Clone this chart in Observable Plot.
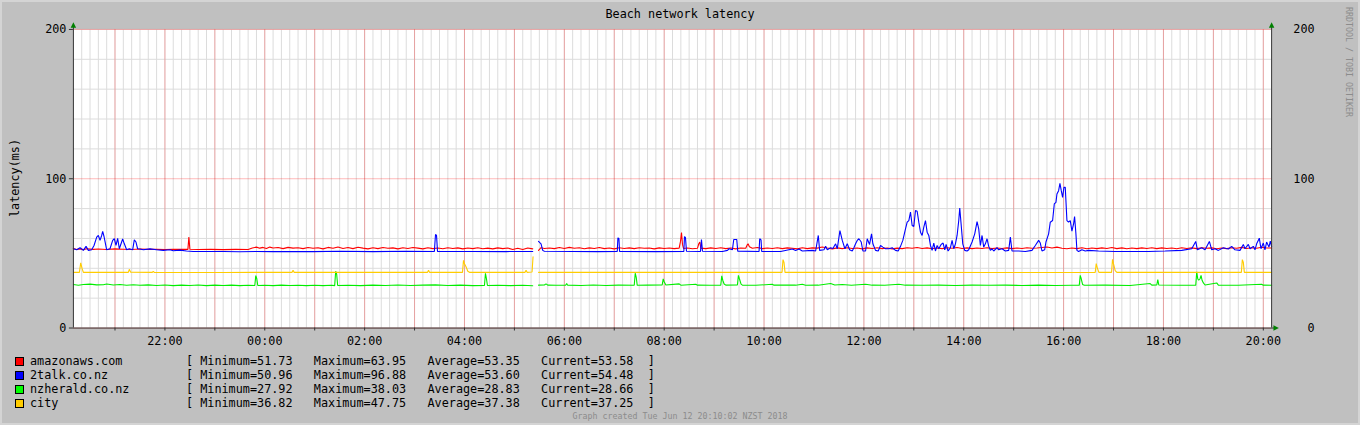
<!DOCTYPE html>
<html>
<head>
<meta charset="utf-8">
<script src="https://cdn.jsdelivr.net/npm/d3@7"></script>
<script src="https://cdn.jsdelivr.net/npm/@observablehq/plot@0.6"></script>
<style>
  html, body { margin: 0; padding: 0; background: #c0c0c0; }
  #wrap { position: relative; width: 1360px; height: 425px; background: #c0c0c0; overflow: hidden;
          font-family: "DejaVu Sans Mono", monospace; font-size: 11.8px; color: #000;
          box-sizing: border-box; border: 2px solid #d4d4d4; }
  .abs { position: absolute; white-space: pre; line-height: 14px; }
  .sw { position: absolute; width: 7px; height: 7px; border: 1px solid #000; }
</style>
</head>
<body>
<div id="wrap"></div>
<script>
// ---------- data (minutes after 20:10 on Mon 11 Jun 2018, latency in ms) ----------
const startUTC = Date.UTC(2018, 5, 11, 20, 10);
const spanMinutes = 1440;

const seriesNames = ["amazonaws.com", "2talk.co.nz", "nzherald.co.nz", "city"];
const seriesColors = ["#ff0000", "#0000ff", "#00ee00", "#ffcc00"];
const minimums = [51.73, 50.96, 27.92, 36.82];
const maximums = [63.95, 96.88, 38.03, 47.75];
const averages = [53.35, 53.60, 28.83, 37.38];
const currents = [53.58, 54.48, 28.66, 37.25];

const yTicksMajor = [0, 100, 200];
const yTicksMinor = [20, 40, 60, 80, 120, 140, 160, 180];

const amazonaws = [
[0,53.2],[4,52.6],[8,53.0],[12,52.5],[16,53.1],[24,52.7],[30,52.9],[40,52.6],[50,53.0],[60,52.8],[70,52.6],[80,52.9],[90,52.7],[100,52.8],[110,52.6],[120,52.8],[130,52.7],[137.6,52.7],[138.8,61.0],[140,52.8],
[150,52.6],[165,52.7],[180,52.5],[195,52.7],[210,52.6],[215,53.6],[220,54.2],[224,53.5],[228,54.0],[232,53.3],[236,54.2],[240,53.6],[246,53.9],[252,53.2],[258,54.0],[264,53.5],[270,53.8],[276,53.2],[282,53.9],[288,53.4],
[294,53.8],[300,53.0],[306,54.0],[312,53.4],[318,54.3],[324,53.3],[330,53.9],[336,53.2],[342,54.1],[348,53.5],[354,53.0],[360,53.8],[366,53.2],[372,53.9],[378,53.4],[384,53.7],[390,53.0],[396,53.8],[402,53.3],[408,53.9],[414,53.5],[420,53.0],[426,53.8],[432,53.2],[438,53.6],[444,53.1],[450,53.8],[456,53.3],[462,53.7],[468,53.0],[474,53.6],[480,53.2],[486,53.8],[492,53.1],[498,53.5],[504,53.0],[510,53.7],[516,53.2],[522,53.6],[528,52.6],[534,53.4],[540,52.6],[546,53.6],[552,53.0],[554,null],
[559,52.0],[562,53.8],[566,53.3],[572,53.6],[578,53.2],[584,53.9],[590,53.3],[596,54.0],[602,53.4],[608,53.8],[614,53.1],[620,53.7],[626,53.3],[632,53.9],[638,53.2],[644,53.6],[650,53.0],[656,53.8],[662,53.3],[668,53.7],[674,53.2],[680,53.8],[686,53.4],[692,53.6],[698,53.0],[704,53.7],[710,53.3],[716,53.6],[722,53.2],[728,53.5],[729.6,58],[730.8,63.95],[732,56],[733.2,53.3],[738,53.6],[744,53.1],[750,53.4],[751.6,56.5],[752.8,57.6],[754,53.5],[760,53.2],[766,53.7],[772,53.3],[778,53.8],[784,53.2],[790,53.6],[796,53.0],[802,53.6],[808,53.4],[809.6,55.5],[810.8,56.4],[812.4,54.5],[816,53.4],[822,53.9],[828,53.2],[834,53.6],[840,53.3],[846,53.8],[852,53.2],[858,53.7],[864,53.4],
[870,53.0],[876,53.8],[882,53.2],[888,53.7],[894,53.5],[900,54.3],[906,53.6],[912,53.0],[918,53.7],[924,53.2],[930,53.8],[936,53.3],[942,53.6],[948,53.0],[954,53.7],[960,53.3],[966,53.8],[972,53.2],[978,53.6],[984,53.0],[990,53.5],[996,53.2],[1002,53.8],[1008,53.4],[1014,53.9],[1020,53.3],[1026,53.7],[1032,53.1],[1038,53.6],[1044,53.2],[1050,53.8],[1056,53.4],[1062,53.9],[1068,53.3],[1074,53.7],[1080,53.2],[1086,53.6],[1092,53.3],[1098,53.8],[1104,53.2],[1110,53.6],[1116,53.3],[1122,53.7],[1128,53.2],[1134,53.6],[1140,53.3],[1146,53.8],[1152,53.4],
[1158,53.6],[1164,53.9],[1170,54.3],[1176,53.6],[1182,54.2],[1188,53.4],[1194,53.1],[1200,53.6],[1206,53.2],[1212,53.8],[1218,53.1],[1224,53.6],[1230,53.2],[1236,53.7],[1242,53.3],[1248,53.9],[1254,53.2],[1260,53.7],[1266,53.1],[1272,53.6],[1278,53.2],[1284,53.7],[1290,53.3],[1296,53.8],[1302,53.2],[1308,53.7],[1314,53.3],[1320,53.6],[1326,53.1],[1332,53.8],[1338,53.3],[1344,53.7],[1350,53.2],[1356,53.8],[1362,53.4],[1368,53.7],[1374,53.1],[1380,53.6],[1386,53.2],[1392,53.8],[1398,53.4],[1404,54.0],[1410,53.3],[1416,53.8],[1422,53.4],[1428,54.1],[1434,53.6],[1440,53.58]
];

const twoTalk = [
[0,53.1],[4,52.4],[8,53.8],[12,52.0],[15.2,54.7],[18,52.0],[22,52.4],[24.8,55.3],[28,60.9],[30,62.0],[32,58.7],[34,62.0],[35.2,64.7],[36.8,61.3],[38.4,56.9],[40,52.4],[44,53.1],[47.2,58.7],[49.2,59.8],[51.2,55.3],[53.2,60.0],[55.2,53.1],[59.2,59.6],[61.2,56.4],[64,52.4],[67.2,53.1],[71.2,52.4],[73.2,59.1],[75.2,57.6],[77.2,53.1],[80,52.9],[84,52.4],[92,53.0],[100,52.4],[108,52.0],[116,52.4],[120,51.8],[128,52.2],[136,51.6],[144,51.3],[160,51.3],[180,51.3],[200,51.1],[220,51.3],[240,51.2],[260,51.3],[288,51.2],
[320,51.4],[360,51.2],[400,51.4],[433.8,51.3],[434.6,58],[435.2,62.7],[436.4,62],[437.6,51.3],[480,51.3],[520,51.2],[552,51.3],[554,null],
[559,58.0],[562,56.4],[564,52.0],[566,51.4],[600,51.3],[630,51.2],[653.6,51.3],[654.4,60.4],[655.6,60.0],[656.4,51.3],[700,51.2],[733.6,51.3],[734.4,61.3],[735.6,60.5],[736.8,51.4],[753.6,51.3],[754.8,59.3],[756,51.4],[780,51.3],[786,52.0],[788,53.1],[792,52.4],[793.6,59.3],[797.2,59.3],[798.4,51.5],[824,51.3],[824.8,59.8],[826.4,59.0],[827.2,51.3],[850,51.3],
[864,52.9],[868,52.0],[872,52.9],[876,51.6],[888,52.0],[892,51.6],[895.2,62.0],[896.8,52.0],[902,52.4],[904,54.7],[906,52.4],[910,53.8],[912.8,53.3],[916,56.4],[918,53.1],[921.2,65.3],[924,58.7],[927.2,53.1],[930,56.4],[932.8,52.4],[936,51.6],[938,53.8],[940,56.4],[942,58.7],[944,59.8],[946.8,57.6],[948.8,51.6],[952,51.6],[954,59.8],[956.8,56.0],[959.2,63.1],[960.8,56.4],[964,52.0],[967.2,51.6],[970,55.3],[972.8,54.2],[976,53.1],[980,53.1],[984,53.8],[988,52.0],[991.2,51.6],[994,54.7],[996.8,58.7],[1000,66.4],[1002,70.9],[1004,72.0],[1006,77.6],[1008,68.7],[1010,68.0],[1012,78.7],[1014,78.2],[1016,70.9],[1018,64.2],[1020,62.0],[1022,67.6],[1024,72.0],[1026,64.2],[1028,62.0],[1030,55.3],[1032,52.0],[1034,56.9],[1036,51.6],[1038,55.3],[1040,53.1],[1042.8,56.0],[1045.2,56.9],[1047.2,52.4],[1048.8,56.0],[1051.2,51.6],[1054,53.8],[1056,58.7],[1058,53.1],[1060,56.4],[1062,62.0],[1064,72.0],[1065.2,80.4],[1066.8,69.8],[1068.8,56.4],[1071.2,52.0],[1074,51.6],[1076,52.4],[1080,57.6],[1083.2,63.1],[1086,71.3],[1088,66.4],[1090,55.3],[1092,62.0],[1094,54.2],[1096,56.4],[1098,59.8],[1100,54.7],[1102,52.0],[1104,53.1],[1106,51.6],[1110,53.8],[1112,52.4],[1116,53.1],[1120,51.6],[1124,52.0],[1126,60.9],[1128,51.6],[1136,51.6],[1144,51.3],
[1152,52.0],[1156,55.3],[1160,58.7],[1162,56.9],[1164,51.6],[1167.2,52.4],[1168.8,57.6],[1172,63.1],[1174,70.9],[1176.8,72.0],[1178.8,83.1],[1180.8,84.2],[1182,89.8],[1184,92.0],[1185.6,96.88],[1187.2,92.0],[1188.8,87.5],[1190.4,94.2],[1192,94.2],[1194,72.0],[1196,70.9],[1198,72.0],[1200,64.9],[1202,69.8],[1203.2,74.7],[1204.8,63.1],[1206,52.0],[1208,51.3],[1212,52.4],[1216,51.6],[1220,52.0],[1232,51.6],[1252,51.3],[1272,51.3],[1292,51.3],[1312,51.6],[1332,52.0],[1344,53.1],[1348.8,58.0],[1350.8,52.4],[1356,53.8],[1360,52.4],[1365.2,58.0],[1368,52.4],[1372,53.1],[1376,52.0],[1382,53.8],[1388,52.9],[1392,54.7],[1396,52.4],[1402,52.0],[1406,56.0],[1408,53.1],[1412,56.0],[1414,53.1],[1418,54.7],[1420,52.4],[1422,56.4],[1425.2,60.2],[1427.2,53.1],[1430,56.9],[1432,52.4],[1434,57.6],[1436.8,54.2],[1438.4,58.2],[1440,54.48]
];

const nzherald = [
[0,29.1],[6,28.7],[12,29.2],[20,29.4],[28,28.9],[36,29.0],[40,29.5],[48,28.8],[56,29.1],[64,28.7],[72,29.0],[80,28.6],[90,28.9],[100,28.5],[110,28.8],[120,28.4],[130,28.7],[140,28.5],[150,28.8],[160,28.4],[170,28.7],[180,28.5],[190,28.7],[200,28.4],[210,28.6],[218,28.5],[219.2,35.1],[220.4,33],[221.6,28.5],[230,28.6],[240,28.4],[250,28.7],[260,28.5],[270,28.6],[280,28.4],
[290,28.6],[300,28.4],[310,28.6],[314,28.4],[315.2,38.03],[316.4,36],[317.6,28.5],[330,28.6],[345,28.4],[360,28.7],[375,28.5],[390,28.8],[405,28.5],[420,28.7],[435,28.9],[450,28.5],[465,28.7],[480,28.4],[494,28.5],[495.2,36.7],[496.4,33],[497.6,28.5],[510,28.6],[525,28.4],[540,28.6],[552,28.3],[554,null],
[559,28.7],[566,28.8],[568,29.6],[570,28.7],[580,28.6],[591.6,28.7],[592.8,29.8],[594,28.7],[610,28.5],[625,28.8],[640,28.5],[655,28.7],[674,28.6],[675.2,36.7],[676.4,34],[677.6,28.6],[690,28.7],[707.6,28.8],[708.8,32.9],[710,31],[712,28.8],[728,29.6],[730,28.7],[748,29.3],[750,28.7],[765,28.6],[778,28.7],[779.2,34.9],[780.4,32],[782,29.5],[784,28.7],[798,28.8],[799.2,35.3],[800.4,33],[802.4,29.4],[804,28.7],[820,28.6],[840,29.3],[842,28.7],[860,28.8],
[868,28.7],[876,29.3],[880,28.6],[895,28.7],[910,29.8],[915,28.8],[924,29.1],[935,28.6],[952,29.3],[960,28.7],[975,28.6],[992,29.3],[1000,28.7],[1020,28.6],[1040,28.7],[1060,28.5],[1080,28.7],[1100,28.6],[1120,28.7],[1140,28.5],
[1160,28.7],[1180,28.5],[1200,28.6],[1208.8,28.6],[1210,35.3],[1211.2,33],[1212.8,29.2],[1215,28.6],[1240,28.7],[1270,28.5],[1294,29.8],[1296,28.7],[1302,28.8],[1303.2,32.4],[1304.4,28.8],[1330,28.6],[1348.8,28.7],[1350,37.6],[1351.2,33],[1352.4,32],[1354,33],[1355.2,35.3],[1356.4,32],[1358,30.2],[1360,28.8],[1374,30.2],[1376,28.7],[1400,28.6],[1428,29.3],[1430,28.7],[1440,28.66]
];

const city = [
[0,37.3],[7.2,37.3],[8.8,43.6],[10.4,40],[12,37.3],[66,37.3],[67.2,39.3],[68.8,37.4],[94.8,37.3],[96,38.0],[97.2,37.3],[180,37.2],[262.8,37.3],[264,38.7],[265.2,37.3],
[350,37.3],[425.6,37.3],[426.8,38.7],[428,37.3],[467.6,37.3],[468.8,45.3],[470,43],[472,40.9],[474,38],[476,37.3],[542.8,37.3],[544,38.7],[545.2,37.3],[551.2,37.5],[552.4,47.75],[554,null],
[559,37.3],[700,37.3],[851.6,37.3],[852.8,45.8],[854,44],[855.2,37.3],[1000,37.3],[1100,37.2],
[1228,37.3],[1229.2,43.1],[1230.4,40.5],[1232.4,37.3],[1247.6,37.3],[1248.8,46.0],[1250,43],[1252,38.5],[1254,37.3],[1403.6,37.3],[1404.8,45.8],[1406,44],[1407.2,37.3],[1440,37.25]
];

const seriesData = [amazonaws, twoTalk, nzherald, city];

// ---------- build ----------
const toDate = m => new Date(startUTC + m * 60000);
const x0 = new Date(startUTC), x1 = new Date(startUTC + spanMinutes * 60000);
const minorX = d3.utcMinute.every(10).range(x0, new Date(+x1 + 1));
const majorX = d3.utcHour.every(1).range(x0, new Date(+x1 + 1));
const labelX = d3.utcHour.every(2).range(x0, new Date(+x1 + 1));
const fmt = d3.utcFormat("%H:%M");

const upArrow = { draw(ctx, size) { const s = Math.sqrt(size) * 1.4; ctx.moveTo(0, -s * 0.6); ctx.lineTo(s * 0.5, s * 0.4); ctx.lineTo(-s * 0.5, s * 0.4); ctx.closePath(); } };
const rightArrow = { draw(ctx, size) { const s = Math.sqrt(size) * 1.4; ctx.moveTo(s * 0.6, 0); ctx.lineTo(-s * 0.4, s * 0.5); ctx.lineTo(-s * 0.4, -s * 0.5); ctx.closePath(); } };

const gridMinor = "#dcdcdc";
const gridMajor = "rgba(255,0,0,0.28)";
const axisColor = "#333";

const chart = Plot.plot({
  width: 1360,
  height: 350,
  marginLeft: 73,
  marginRight: 87,
  marginTop: 29,
  marginBottom: 22,
  style: { background: "transparent", fontFamily: "'DejaVu Sans Mono', monospace", fontSize: "11.8px", color: "#000" },
  x: { type: "utc", domain: [x0, x1] },
  y: { domain: [0, 200] },
  marks: [
    Plot.frame({ fill: "white", stroke: null }),
    Plot.ruleX(minorX, { stroke: gridMinor, strokeWidth: 1 }),
    Plot.ruleY(yTicksMinor, { stroke: gridMinor, strokeWidth: 1 }),
    Plot.ruleX(majorX, { stroke: gridMajor, strokeWidth: 1 }),
    Plot.ruleY(yTicksMajor, { stroke: gridMajor, strokeWidth: 1 }),
    ...seriesData.map((pts, i) => Plot.line(pts, {
      x: d => toDate(d[0]), y: d => d[1], stroke: seriesColors[i], strokeWidth: 1.1, strokeLinejoin: "miter"
    })),
    // axis lines
    Plot.ruleY([0], { stroke: axisColor, insetRight: -4 }),
    Plot.ruleX([x0], { stroke: axisColor, insetTop: -3 }),
    Plot.ruleX([x1], { stroke: axisColor, insetTop: -3 }),
    // tick marks on the axes
    Plot.ruleX(majorX, { y1: () => 0, y2: () => 0, insetBottom: -3, stroke: axisColor }),
    Plot.ruleY(yTicksMajor, { x1: () => x0, x2: () => x0, insetLeft: -4, stroke: axisColor }),
    // arrows
    Plot.dot([x0, x1], { x: d => d, y: () => 200, symbol: upArrow, r: 2.2, fill: "#008000", stroke: null, dy: -4 }),
    Plot.dot([x1], { x: d => d, y: () => 0, symbol: rightArrow, r: 2.2, fill: "#008000", stroke: null, dx: 4 }),
    // labels
    Plot.axisX({ ticks: labelX, tickFormat: fmt, tickSize: 0, tickPadding: 9, label: null }),
    Plot.axisY({ anchor: "left", ticks: yTicksMajor, tickSize: 0, tickPadding: 7, label: null }),
    Plot.axisY({ anchor: "right", ticks: yTicksMajor, tickSize: 0, tickPadding: 43, textAnchor: "end", label: null })
  ]
});

const wrap = document.getElementById("wrap");
const holder = document.createElement("div");
holder.style.cssText = "position:absolute;left:-2px;top:-2px;";
holder.appendChild(chart);
wrap.appendChild(holder);

function addText(txt, css) {
  const el = document.createElement("div");
  el.className = "abs";
  el.textContent = txt;
  el.style.cssText += css;
  wrap.appendChild(el);
  return el;
}
// coordinates inside wrap are offset by the 2px border
addText("Beach network latency", "left:0;width:1356px;text-align:center;top:5px;");
addText("latency(ms)", "top:176px;transform:translate(-50%,-50%) rotate(-90deg);transform-origin:center;left:13px;");
addText("RRDTOOL / TOBI OETIKER", "left:1342px;top:5px;writing-mode:vertical-rl;font-size:8.3px;line-height:10px;color:#8c8c8c;");

seriesNames.forEach((name, i) => {
  const cy = 359 + i * 14;
  const sw = document.createElement("div");
  sw.className = "sw";
  sw.style.left = "13px";
  sw.style.top = (cy - 4) + "px";
  sw.style.background = seriesColors[i] === "#00ee00" ? "#00ff00" : seriesColors[i];
  wrap.appendChild(sw);
  addText(name, `left:28px;top:${cy - 7}px;`);
  addText(`[ Minimum=${minimums[i].toFixed(2)}   Maximum=${maximums[i].toFixed(2)}   Average=${averages[i].toFixed(2)}   Current=${currents[i].toFixed(2)}  ]`,
    `left:184px;top:${cy - 7}px;`);
});
addText("Graph created Tue Jun 12 20:10:02 NZST 2018", "left:0;width:1356px;text-align:center;top:409px;font-size:8.3px;line-height:10px;color:#8c8c8c;");
</script>
</body>
</html>
